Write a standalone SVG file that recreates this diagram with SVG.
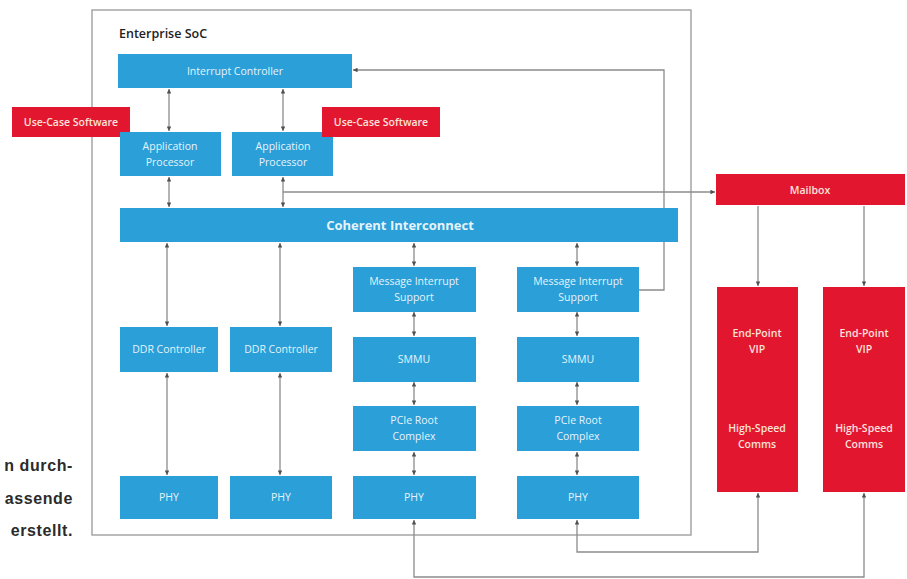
<svg xmlns="http://www.w3.org/2000/svg" width="907" height="579" viewBox="0 0 907 579">
<style>
.blue{fill:#2a9fd8}
.red{fill:#e3162f}
.bt{font-family:"Open Sans","Noto Sans",sans-serif;font-size:10.5px;fill:#e6f3fb;text-anchor:middle}
.rt{font-family:"Open Sans","Noto Sans",sans-serif;font-size:10.5px;font-weight:600;fill:#fbe2da;text-anchor:middle}
.ln{fill:none;stroke:#8c8c8c;stroke-width:1.3}
.side{font-family:"Liberation Sans",Arial,sans-serif;font-size:16px;font-weight:bold;fill:#2b2b2b;text-anchor:end;letter-spacing:0.6px}
</style>
<defs>
<marker id="ah" viewBox="0 0 6 6" refX="6" refY="3" markerWidth="3.5" markerHeight="3.5" orient="auto-start-reverse">
<path d="M0,0 L6,3 L0,6 z" fill="#505050"/>
</marker>
</defs>
<rect width="907" height="579" fill="#ffffff"/>

<g id="side-text">
<text class="side" x="73" y="471">n durch-</text>
<text class="side" x="73" y="504">assende</text>
<text class="side" x="73" y="536">erstellt.</text>
</g>

<g id="soc">
<rect x="92" y="10" width="599" height="525" fill="none" stroke="#a5a5a5" stroke-width="1.5"/>
<text x="119" y="38" font-family="'Open Sans','Noto Sans',sans-serif" font-size="12.5" font-weight="600" fill="#222">Enterprise SoC</text>
</g>

<g id="connectors">
<path class="ln" d="M169,89 V131" marker-start="url(#ah)" marker-end="url(#ah)"/>
<path class="ln" d="M283,89 V131" marker-start="url(#ah)" marker-end="url(#ah)"/>
<path class="ln" d="M169,177 V207" marker-start="url(#ah)" marker-end="url(#ah)"/>
<path class="ln" d="M283,177 V207" marker-start="url(#ah)" marker-end="url(#ah)"/>
<path class="ln" d="M283,192 H715" marker-end="url(#ah)"/>
<path class="ln" d="M167,243 V326" marker-start="url(#ah)" marker-end="url(#ah)"/>
<path class="ln" d="M280,243 V326" marker-start="url(#ah)" marker-end="url(#ah)"/>
<path class="ln" d="M414,243 V266" marker-start="url(#ah)" marker-end="url(#ah)"/>
<path class="ln" d="M577,243 V266" marker-start="url(#ah)" marker-end="url(#ah)"/>
<path class="ln" d="M414,312 V336" marker-start="url(#ah)" marker-end="url(#ah)"/>
<path class="ln" d="M577,312 V336" marker-start="url(#ah)" marker-end="url(#ah)"/>
<path class="ln" d="M414,382 V405" marker-start="url(#ah)" marker-end="url(#ah)"/>
<path class="ln" d="M577,382 V405" marker-start="url(#ah)" marker-end="url(#ah)"/>
<path class="ln" d="M414,452 V475" marker-start="url(#ah)" marker-end="url(#ah)"/>
<path class="ln" d="M577,452 V475" marker-start="url(#ah)" marker-end="url(#ah)"/>
<path class="ln" d="M167,373 V475" marker-start="url(#ah)" marker-end="url(#ah)"/>
<path class="ln" d="M280,373 V475" marker-start="url(#ah)" marker-end="url(#ah)"/>
<path class="ln" d="M639,290 H664 V70 H353" marker-end="url(#ah)"/>
<path class="ln" d="M758,206 V286" marker-end="url(#ah)"/>
<path class="ln" d="M864,206 V286" marker-end="url(#ah)"/>
<path class="ln" d="M577,520 V552 H758 V493" marker-start="url(#ah)" marker-end="url(#ah)"/>
<path class="ln" d="M414,520 V577 H864 V493" marker-start="url(#ah)" marker-end="url(#ah)"/>
</g>

<g id="interrupt-controller"><rect class="blue" x="118" y="54" width="234" height="34"/><text class="bt" x="235" y="75">Interrupt Controller</text></g>
<g id="use-case-software-1"><rect class="red" x="12" y="107" width="118" height="30"/><text class="rt" x="71" y="126">Use-Case Software</text></g>
<g id="app-proc-1"><rect class="blue" x="120" y="132" width="101" height="44"/><text class="bt" x="170" y="150">Application</text><text class="bt" x="170" y="166">Processor</text></g>
<g id="app-proc-2"><rect class="blue" x="232" y="132" width="101" height="44"/><text class="bt" x="283" y="150">Application</text><text class="bt" x="283" y="166">Processor</text></g>
<g id="use-case-software-2"><rect class="red" x="322" y="107" width="118" height="30"/><text class="rt" x="381" y="126">Use-Case Software</text></g>
<g id="mailbox"><rect class="red" x="716" y="174" width="189" height="31"/><text class="rt" x="810" y="194">Mailbox</text></g>
<g id="coherent-interconnect"><rect class="blue" x="120" y="208" width="558" height="34"/><text x="400" y="230" font-family="'Open Sans','Noto Sans',sans-serif" font-size="13" font-weight="bold" fill="#e6f3fb" text-anchor="middle">Coherent Interconnect</text></g>
<g id="ddr-1"><rect class="blue" x="120" y="327" width="98" height="45"/><text class="bt" x="169" y="353">DDR Controller</text></g>
<g id="ddr-2"><rect class="blue" x="230" y="327" width="102" height="45"/><text class="bt" x="281" y="353">DDR Controller</text></g>
<g id="mis-1"><rect class="blue" x="353" y="267" width="123" height="45"/><text class="bt" x="414" y="285">Message Interrupt</text><text class="bt" x="414" y="301">Support</text></g>
<g id="mis-2"><rect class="blue" x="517" y="267" width="122" height="45"/><text class="bt" x="578" y="285">Message Interrupt</text><text class="bt" x="578" y="301">Support</text></g>
<g id="smmu-1"><rect class="blue" x="353" y="337" width="123" height="45"/><text class="bt" x="414" y="363">SMMU</text></g>
<g id="smmu-2"><rect class="blue" x="517" y="337" width="122" height="45"/><text class="bt" x="578" y="363">SMMU</text></g>
<g id="pcie-1"><rect class="blue" x="353" y="406" width="123" height="45"/><text class="bt" x="414" y="424">PCIe Root</text><text class="bt" x="414" y="440">Complex</text></g>
<g id="pcie-2"><rect class="blue" x="517" y="406" width="122" height="45"/><text class="bt" x="578" y="424">PCIe Root</text><text class="bt" x="578" y="440">Complex</text></g>
<g id="phy-1"><rect class="blue" x="120" y="476" width="98" height="43"/><text class="bt" x="169" y="501">PHY</text></g>
<g id="phy-2"><rect class="blue" x="230" y="476" width="102" height="43"/><text class="bt" x="281" y="501">PHY</text></g>
<g id="phy-3"><rect class="blue" x="353" y="476" width="123" height="43"/><text class="bt" x="414" y="501">PHY</text></g>
<g id="phy-4"><rect class="blue" x="517" y="476" width="122" height="43"/><text class="bt" x="578" y="501">PHY</text></g>
<g id="endpoint-1"><rect class="red" x="717" y="287" width="81" height="205"/><text class="rt" x="757" y="337">End-Point</text><text class="rt" x="757" y="353">VIP</text><text class="rt" x="757" y="432">High-Speed</text><text class="rt" x="757" y="448">Comms</text></g>
<g id="endpoint-2"><rect class="red" x="823" y="287" width="82" height="205"/><text class="rt" x="864" y="337">End-Point</text><text class="rt" x="864" y="353">VIP</text><text class="rt" x="864" y="432">High-Speed</text><text class="rt" x="864" y="448">Comms</text></g>
</svg>
